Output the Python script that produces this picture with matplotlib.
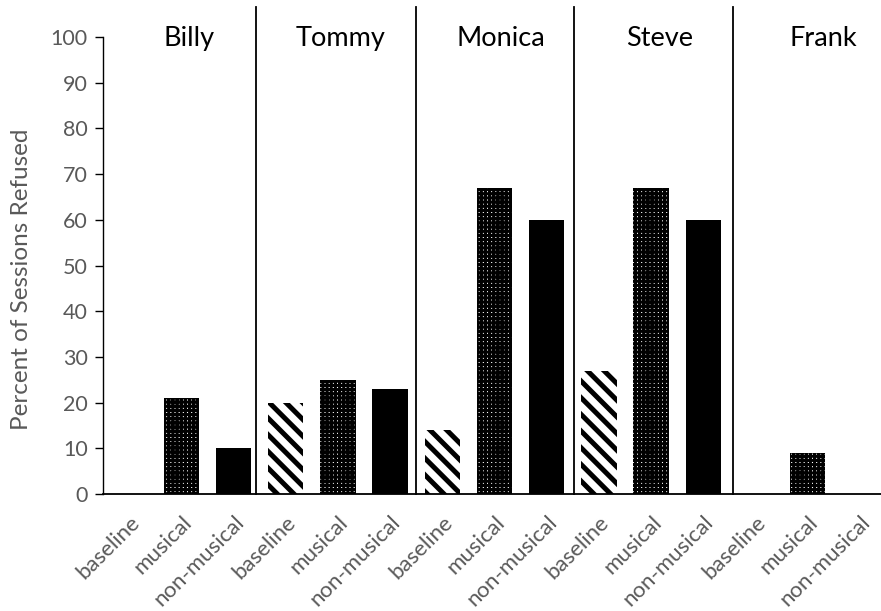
import matplotlib.pyplot as plt
import numpy as np

# refusal percentages per child and condition
children   = ["Billy", "Tommy", "Monica", "Steve", "Frank"]
conditions = ["baseline", "musical", "non-musical"]
baseline    = [0, 20, 14, 27, 0]
musical     = [21, 25, 67, 67, 9]
non_musical = [10, 23, 60, 60, 0]

# layout
name_x    = [1.14, 4.05, 7.12, 10.16, 13.29]
divider_x = [2.43, 5.5, 8.52, 11.56]
GRAY = "#595959"

plt.rcParams["font.family"] = ["Lato", "DejaVu Sans"]

fig = plt.figure(figsize=(8.81, 6.11), dpi=100)
ax = fig.add_axes((103 / 881, 1 - 494 / 611, 783 / 881, 457 / 611))

n = len(children)
pos = np.arange(n) * 3
width = 0.68

styles = [
    (baseline, dict(color="white", edgecolor="black", hatch="\\\\"), 3.6),
    (musical, dict(color="white", edgecolor="black", hatch="++++"), 2.2),
    (non_musical, dict(color="black", edgecolor="black"), None),
]
for k, (vals, kw, hlw) in enumerate(styles):
    bars = ax.bar(pos + k, vals, width, linewidth=0, **kw)
    if hlw is not None:
        for b in bars:
            if hasattr(b, "set_hatch_linewidth"):
                b.set_hatch_linewidth(hlw)

# group dividers rising above the plot area
for x in divider_x:
    ax.plot([x, x], [0, 106.5], color="black", lw=1.3, clip_on=False)

for name, x in zip(children, name_x):
    ax.text(x, 99.6, name, ha="center", va="center", fontsize=19.5, color="black")

ax.set_xlim(-0.5, 3 * n - 0.5)
ax.set_ylim(0, 100)
ax.set_yticks(range(0, 101, 10))
ax.tick_params(axis="y", direction="out", length=6, width=1, colors="black",
               labelcolor=GRAY, labelsize=15.5, pad=5)

ticks = np.arange(3 * n)
ax.set_xticks(ticks)
ax.set_xticklabels(conditions * n, rotation=45, ha="right",
                   rotation_mode="anchor", color=GRAY, fontsize=16)
ax.tick_params(axis="x", length=0, pad=13)

ax.spines["top"].set_visible(False)
ax.spines["right"].set_visible(False)
ax.spines["left"].set_color("black")
ax.spines["bottom"].set_color("black")
ax.spines["left"].set_linewidth(1)
ax.spines["bottom"].set_linewidth(1.3)

ax.set_ylabel("Percent of Sessions Refused", color=GRAY, fontsize=17.5)
ax.yaxis.set_label_coords(-0.091, 0.47)

fig.savefig("out.png", dpi=100)
